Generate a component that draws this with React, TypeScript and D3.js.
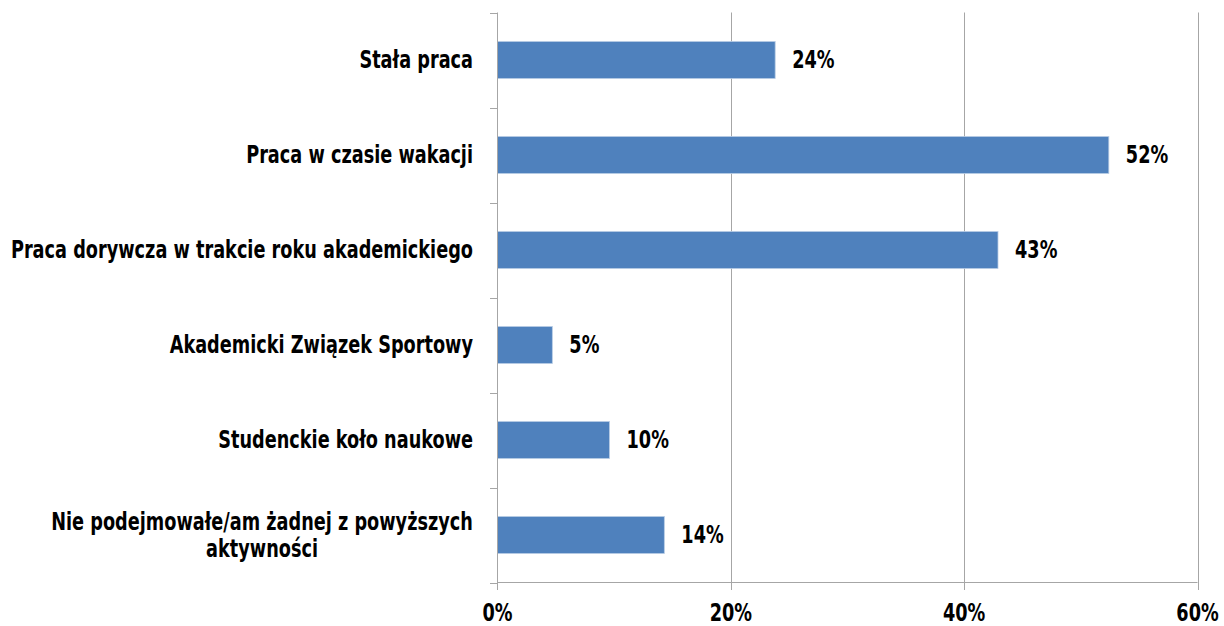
import React, { useEffect, useRef } from "react";
import * as d3 from "d3";

const categories = [
  "Stała praca",
  "Praca w czasie wakacji",
  "Praca dorywcza w trakcie roku akademickiego",
  "Akademicki Związek Sportowy",
  "Studenckie koło naukowe",
  "Nie podejmowałe/am żadnej z powyższych aktywności",
];
const values = [0.238, 0.524, 0.429, 0.047, 0.096, 0.143];
const xTicks = [0, 0.2, 0.4, 0.6];

const W = 1224;
const H = 626;
const FONT = "'DejaVu Sans Condensed', 'DejaVu Sans', sans-serif";
const SX = 0.82;

export default function App() {
  const ref = useRef<SVGSVGElement>(null);
  useEffect(() => {
    const svg = d3.select(ref.current);
    svg.selectAll("*").remove();
    const x = d3.scaleLinear().domain([0, 0.6]).range([497.5, 1197.5]);
    const y = d3
      .scaleBand<string>()
      .domain(categories)
      .range([12.5, 582.5])
      .paddingInner(0.61)
      .paddingOuter(0.305);
    const grid = "#a6a6a6";
    const fmt = d3.format(".0%");

    const label = (
      parent: d3.Selection<any, any, any, any>,
      tx: number,
      ty: number,
      txt: string,
      anchor: string,
      size: number
    ) =>
      parent
        .append("g")
        .attr("transform", `translate(${tx},${ty}) scale(${SX},1)`)
        .append("text")
        .attr("x", 0)
        .attr("y", 0)
        .attr("dy", "0.35em")
        .attr("text-anchor", anchor)
        .attr("font-family", FONT)
        .attr("font-weight", "bold")
        .attr("font-size", size)
        .attr("fill", "#000")
        .text(txt);

    // gridlines
    svg
      .append("g")
      .selectAll("line")
      .data(xTicks.slice(1))
      .join("line")
      .attr("x1", (d) => Math.round(x(d)) + 0.5)
      .attr("x2", (d) => Math.round(x(d)) + 0.5)
      .attr("y1", 12.5)
      .attr("y2", 590)
      .attr("stroke", grid)
      .attr("stroke-width", 1);

    // bars
    svg
      .append("g")
      .selectAll("rect")
      .data(categories)
      .join("rect")
      .attr("x", x(0))
      .attr("y", (d) => y(d)!)
      .attr("width", (d, i) => x(values[i]) - x(0))
      .attr("height", y.bandwidth())
      .attr("fill", "#4f81bd")
      .attr("stroke", "#b9cde5")
      .attr("stroke-width", 0.8);

    // y axis line + ticks
    svg
      .append("line")
      .attr("x1", 497.5)
      .attr("x2", 497.5)
      .attr("y1", 12.5)
      .attr("y2", 590)
      .attr("stroke", grid);
    const bounds = d3.range(categories.length + 1).map((i) => 12.5 + i * y.step());
    svg
      .append("g")
      .selectAll("line")
      .data(bounds)
      .join("line")
      .attr("x1", 490)
      .attr("x2", 497.5)
      .attr("y1", (d) => Math.round(d) + 0.5)
      .attr("y2", (d) => Math.round(d) + 0.5)
      .attr("stroke", grid);

    // x axis line
    svg
      .append("line")
      .attr("x1", 497.5)
      .attr("x2", x(0.6))
      .attr("y1", 582.5)
      .attr("y2", 582.5)
      .attr("stroke", grid);

    // x tick labels
    const gx = svg.append("g");
    xTicks.forEach((d) => label(gx, x(d), 613, fmt(d), "middle", 24));

    // value labels
    const gv = svg.append("g");
    categories.forEach((c, i) =>
      label(gv, x(values[i]) + 17, y(c)! + y.bandwidth() / 2, fmt(values[i]), "start", 24)
    );

    // category labels with wrapping
    const maxW = 470;
    const lineH = 27;
    const g = svg.append("g");
    const measure = (s: string) => {
      const t = g
        .append("text")
        .attr("font-family", FONT)
        .attr("font-weight", "bold")
        .attr("font-size", 24)
        .text(s);
      const w = (t.node() as SVGTextElement).getComputedTextLength() * SX;
      t.remove();
      return w;
    };
    categories.forEach((c) => {
      const words = c.split(" ");
      const lines: string[] = [];
      let cur = "";
      words.forEach((w) => {
        const test = cur ? cur + " " + w : w;
        if (measure(test) > maxW && cur) {
          lines.push(cur);
          cur = w;
        } else cur = test;
      });
      lines.push(cur);
      const cy = y(c)! + y.bandwidth() / 2;
      if (lines.length === 1) {
        label(g, 473, cy, lines[0], "end", 24);
      } else {
        const maxLine = Math.max(...lines.map(measure));
        const center = 473 - maxLine / 2;
        lines.forEach((l, i) =>
          label(g, center, cy + (i - (lines.length - 1) / 2) * lineH, l, "middle", 24)
        );
      }
    });
  }, []);
  return (
    <svg
      ref={ref}
      width={W}
      height={H}
      style={{ position: "absolute", left: 0, top: 0, background: "#fff" }}
    />
  );
}
